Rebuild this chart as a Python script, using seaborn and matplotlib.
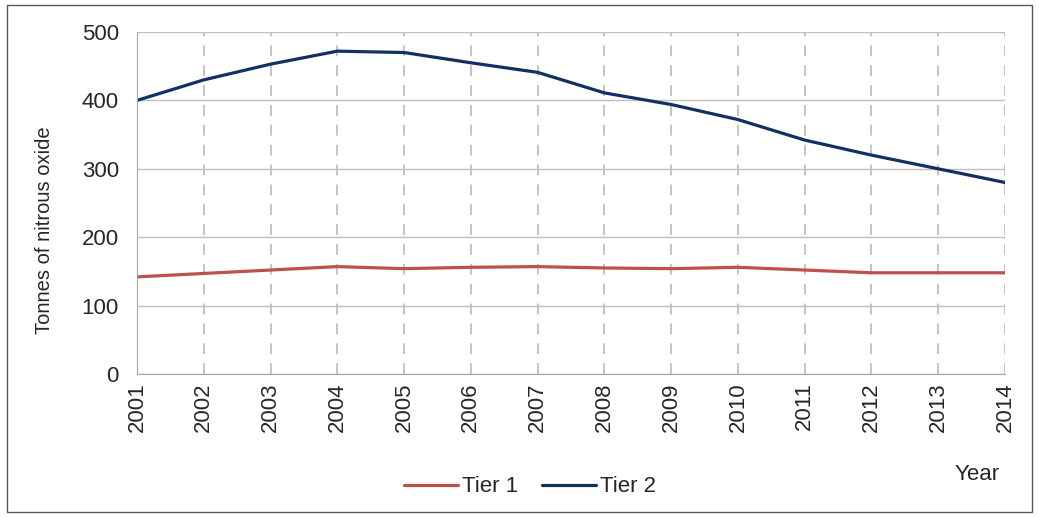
import pandas as pd
import matplotlib
matplotlib.use('Agg')
import matplotlib.pyplot as plt
import seaborn as sns
from matplotlib.patches import Rectangle

# Data
years = list(range(2001, 2015))
tier1 = [142, 147, 152, 157, 154, 156, 157, 155, 154, 156, 152, 148, 148, 148]
tier2 = [400, 430, 453, 472, 470, 455, 441, 411, 394, 372, 342, 320, 300, 280]
series_names = ['Tier 1', 'Tier 2']
colors = ['#C0504D', '#132F64']

df = pd.DataFrame({
    'year': years * 2,
    'value': tier1 + tier2,
    'series': [series_names[0]] * len(years) + [series_names[1]] * len(years),
})

sns.set_style('white')
plt.rcParams['font.family'] = ['Liberation Sans', 'DejaVu Sans']
fs = 16

fig = plt.figure(figsize=(10.39, 5.17), dpi=100)
ax = fig.add_axes([137 / 1039, 1 - 374 / 517, 868 / 1039, 342 / 517])

# outer frame around the whole chart
fig.patches.append(Rectangle((7 / 1039, 5 / 517), 1025 / 1039, 507 / 517,
                             transform=fig.transFigure, fill=False,
                             edgecolor='#595959', linewidth=1.0))

sns.lineplot(data=df, x='year', y='value', hue='series', palette=colors,
             linewidth=2.3, ax=ax, legend=False)

ax.set_xlim(2001, 2014)
ax.set_ylim(0, 500)
ax.set_xticks(years)
ax.set_xticklabels([str(y) for y in years], rotation=90, fontsize=fs)
ax.set_yticks(range(0, 501, 100))
ax.tick_params(axis='y', labelsize=fs, length=6, color='#A6A6A6', direction='out', pad=7)
ax.tick_params(axis='x', length=4, color='#A6A6A6', direction='out', pad=2)

ax.yaxis.grid(True, color='#BFBFBF', linewidth=1.0)
ax.xaxis.grid(True, color='#BFBFBF', linewidth=1.3, linestyle=(0, (6, 5)))
ax.set_axisbelow(True)

for side in ['top', 'right']:
    ax.spines[side].set_visible(False)
ax.spines['left'].set_color('#A6A6A6')
ax.spines['bottom'].set_color('#A6A6A6')

ax.set_xlabel('')
ax.set_ylabel('')
fig.text(45 / 1039, 1 - 230 / 517, 'Tonnes of nitrous oxide', fontsize=14.5,
         rotation=90, ha='center', va='center')

fig.text(977 / 1039, 1 - 474 / 517, 'Year', fontsize=fs, ha='center', va='center')

handles = [plt.Line2D([], [], color=c, linewidth=2.3) for c in colors]
fig.legend(handles, series_names, loc='center', bbox_to_anchor=(530 / 1039, 1 - 487 / 517),
           ncol=2, frameon=False, fontsize=fs, handlelength=2.4, handletextpad=0.18,
           columnspacing=1.1, borderpad=0, borderaxespad=0)

fig.savefig('out.png', dpi=100)
plt.close(fig)
